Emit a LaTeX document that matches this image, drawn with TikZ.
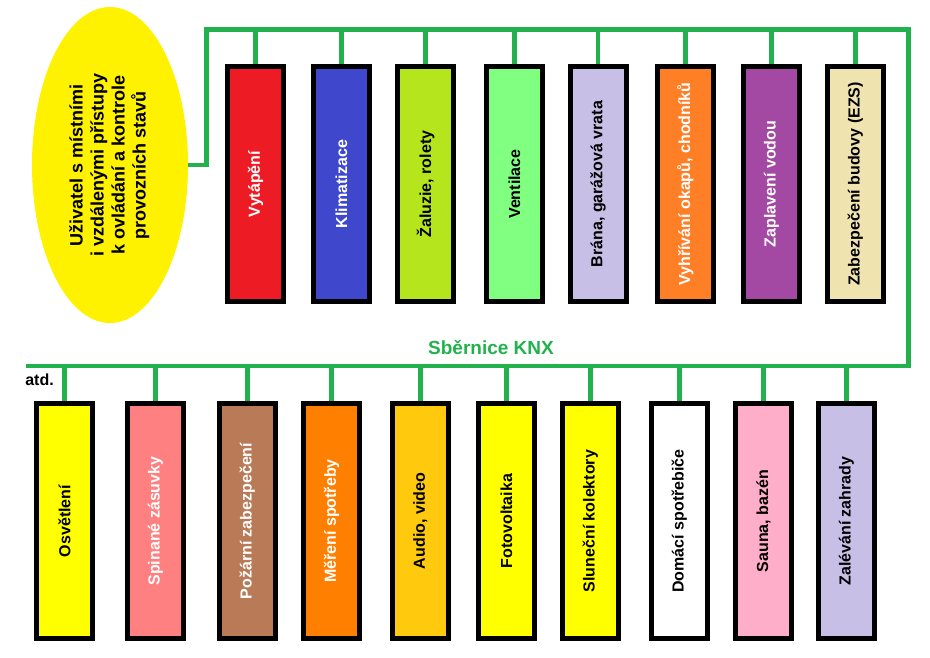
\documentclass[tikz,border=0pt]{standalone}
\usepackage{fontspec}
\setmainfont{Liberation Sans}
\usepackage{tikz}
\usetikzlibrary{shapes.geometric}

\definecolor{knxgreen}{HTML}{22B14C}
\definecolor{userfill}{HTML}{FFF200}

\tikzset{
  bus/.style={draw=knxgreen, line width=4.4pt},
  unit/.style={draw=black, line width=4.7pt, rectangle, minimum width=56pt,
    minimum height=235pt, inner sep=0pt, font=\fontsize{16}{19}\selectfont\bfseries},
  lbl/.style={font=\fontsize{16}{19}\selectfont\bfseries}
}

\newcommand{\up}[1]{\rotatebox{90}{#1}}

\begin{document}
\begin{tikzpicture}[x=1pt, y=-1pt]

  \useasboundingbox (0,0) rectangle (930,657);

  % user
  \node[ellipse, fill=userfill, minimum width=156pt, minimum height=316pt,
    inner sep=0pt, font=\fontsize{18}{21}\selectfont\bfseries] (user) at (110,165)
    {\up{\begin{tabular}{@{}c@{}}Uživatel s místními\\ i vzdálenými přístupy\\
      k ovládání a kontrole\\ provozních stavů\end{tabular}}};

  % bus
  \coordinate (tb) at (206.3,29.5);
  \coordinate (bb) at (908.5,366);
  \coordinate (bend) at (26,366);
  \draw[bus] (user.east) -- (user.east -| tb) -- (tb) -- (tb -| bb) -- (bb) -- (bend);

  \node[font=\fontsize{19}{22}\selectfont\bfseries, text=knxgreen] (knx) at (491,347.5) {Sběrnice KNX};
  \node[lbl] (atd) at (39.5,380) {atd.};

  % upper row
  \node[unit, fill={rgb,255:red,237;green,28;blue,36}, text=white] (vyt) at (255.5,184) {\up{Vytápění}};
  \node[unit, fill={rgb,255:red,63;green,72;blue,204}, text=white] (kli) at (341.5,184) {\up{Klimatizace}};
  \node[unit, fill={rgb,255:red,181;green,230;blue,29}] (zal) at (425.5,184) {\up{Žaluzie, rolety}};
  \node[unit, fill={rgb,255:red,128;green,255;blue,128}] (ven) at (514.5,184) {\up{Ventilace}};
  \node[unit, fill={rgb,255:red,200;green,191;blue,231}] (bra) at (598.2,184) {\up{Brána, garážová vrata}};
  \node[unit, fill={rgb,255:red,255;green,127;blue,39}, text=white] (vyh) at (685.4,184) {\up{Vyhřívání okapů, chodníků}};
  \node[unit, fill={rgb,255:red,163;green,73;blue,164}, text=white] (zap) at (771.5,184) {\up{Zaplavení vodou}};
  \node[unit, fill={rgb,255:red,239;green,228;blue,176}] (ezs) at (855.4,184) {\up{Zabezpečení budovy (EZS)}};

  \draw[bus] (vyt.north) -- (vyt.north |- tb);
  \draw[bus] (kli.north) -- (kli.north |- tb);
  \draw[bus] (zal.north) -- (zal.north |- tb);
  \draw[bus] (ven.north) -- (ven.north |- tb);
  \draw[bus] (bra.north) -- (bra.north |- tb);
  \draw[bus] (vyh.north) -- (vyh.north |- tb);
  \draw[bus] (zap.north) -- (zap.north |- tb);
  \draw[bus] (ezs.north) -- (ezs.north |- tb);

  % lower row
  \node[unit, fill={rgb,255:red,255;green,255;blue,0}] (osv) at (64.4,521) {\up{Osvětlení}};
  \node[unit, fill={rgb,255:red,255;green,128;blue,128}, text=white] (zas) at (155.4,521) {\up{Spinané zásuvky}};
  \node[unit, fill={rgb,255:red,185;green,122;blue,87}, text=white] (poz) at (247.4,521) {\up{Požární zabezpečení}};
  \node[unit, fill={rgb,255:red,255;green,128;blue,0}, text=white] (mer) at (331.5,521) {\up{Měření spotřeby}};
  \node[unit, fill={rgb,255:red,255;green,201;blue,14}] (aud) at (420.4,521) {\up{Audio, video}};
  \node[unit, fill={rgb,255:red,255;green,255;blue,0}] (fot) at (506.4,521) {\up{Fotovoltaika}};
  \node[unit, fill={rgb,255:red,255;green,255;blue,0}] (slu) at (590.4,521) {\up{Sluneční kolektory}};
  \node[unit, fill=white] (dom) at (679.4,521) {\up{Domácí spotřebiče}};
  \node[unit, fill={rgb,255:red,255;green,174;blue,201}] (sau) at (763.4,521) {\up{Sauna, bazén}};
  \node[unit, fill={rgb,255:red,200;green,191;blue,231}] (zah) at (846.4,521) {\up{Zalévání zahrady}};

  \draw[bus] (osv.north) -- (osv.north |- bb);
  \draw[bus] (zas.north) -- (zas.north |- bb);
  \draw[bus] (poz.north) -- (poz.north |- bb);
  \draw[bus] (mer.north) -- (mer.north |- bb);
  \draw[bus] (aud.north) -- (aud.north |- bb);
  \draw[bus] (fot.north) -- (fot.north |- bb);
  \draw[bus] (slu.north) -- (slu.north |- bb);
  \draw[bus] (dom.north) -- (dom.north |- bb);
  \draw[bus] (sau.north) -- (sau.north |- bb);
  \draw[bus] (zah.north) -- (zah.north |- bb);

\end{tikzpicture}
\end{document}
